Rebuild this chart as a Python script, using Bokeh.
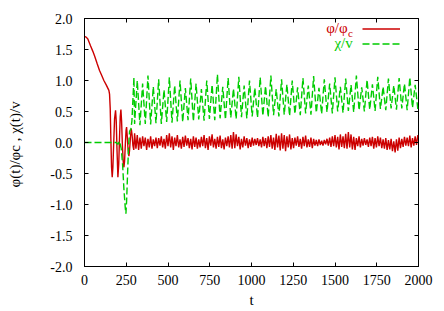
from bokeh.plotting import figure
from bokeh.models import (FixedTicker, NumeralTickFormatter, Range1d, LinearAxis,
                          Legend, LegendItem, Label, CustomJSTickFormatter, ColumnDataSource)
from bokeh.embed import file_html
from bokeh.resources import INLINE

# ---------------- data ----------------
x_ticks = [0, 250, 500, 750, 1000, 1250, 1500, 1750, 2000]
y_ticks = [-2.0, -1.5, -1.0, -0.5, 0.0, 0.5, 1.0, 1.5, 2.0]

phi_t_early = [0, 10, 20, 36, 50, 60, 76, 90, 100, 116,
               130, 146, 150, 154, 158, 162, 166, 170, 175, 180,
               186, 190, 195, 200, 205, 210, 214, 218, 222, 227,
               232, 236, 240, 245, 249, 252, 256, 261, 266, 270,
               275, 280, 285, 290, 295]
phi_early = [1.71, 1.70, 1.67, 1.56, 1.47, 1.40, 1.27, 1.16, 1.10, 1.00,
             0.93, 0.84, 0.78, 0.55, 0.05, -0.40, -0.56, -0.40, 0.00, 0.38,
             0.52, 0.35, -0.15, -0.56, -0.35, 0.10, 0.42, 0.53, 0.35, -0.05,
             -0.32, -0.40, -0.30, 0.00, 0.20, 0.25, 0.10, -0.12, -0.22, -0.12,
             0.08, 0.22, 0.12, -0.05, -0.12]

phi_t_late = list(range(300, 2000, 8))
phi_late = [
    0.15, -0.10, 0.12, -0.12, 0.08, -0.10, 0.10, -0.06, 0.08, -0.12,
    0.06, -0.08, 0.10, -0.10, 0.05, -0.06, 0.08, -0.09, 0.07, -0.05,
    0.10, -0.08, 0.06, -0.10, 0.12, -0.06, 0.15, -0.08, 0.10, -0.12,
    0.08, -0.06, 0.12, -0.08, 0.05, -0.10, 0.09, -0.07, 0.11, -0.05,
    0.07, -0.09, 0.06, -0.11, 0.10, -0.07, 0.08, -0.10, 0.05, -0.08,
    0.09, -0.06, 0.12, -0.09, 0.07, -0.12, 0.10, -0.05, 0.13, -0.08,
    0.06, -0.10, 0.09, -0.07, 0.11, -0.09, 0.05, -0.11, 0.08, -0.06,
    0.10, -0.08, 0.12, -0.10, 0.17, -0.09, 0.13, -0.06, 0.09, -0.11,
    0.06, -0.08, 0.10, -0.05, 0.07, -0.09, 0.05, -0.07, 0.08, -0.05,
    0.06, -0.04, 0.07, -0.06, 0.05, -0.08, 0.09, -0.06, 0.07, -0.09,
    0.10, -0.07, 0.12, -0.10, 0.08, -0.12, 0.14, -0.08, 0.11, -0.13,
    0.15, -0.10, 0.12, -0.14, 0.10, -0.08, 0.13, -0.11, 0.07, -0.09,
    0.08, -0.05, 0.10, -0.07, 0.06, -0.10, 0.09, -0.06, 0.11, -0.08,
    0.05, -0.07, 0.08, -0.09, 0.06, -0.05, 0.04, -0.06, 0.05, -0.04,
    0.03, -0.05, 0.04, -0.03, 0.06, -0.05, 0.08, -0.07, 0.10, -0.06,
    0.12, -0.08, 0.09, -0.11, 0.13, -0.07, 0.10, -0.09, 0.14, -0.10,
    0.17, -0.08, 0.13, -0.11, 0.09, -0.12, 0.07, -0.06, 0.10, -0.08,
    0.06, -0.05, 0.07, -0.04, 0.05, -0.07, 0.08, -0.06, 0.09, -0.10,
    0.07, -0.08, 0.10, -0.06, 0.08, -0.09, 0.05, -0.10, 0.07, -0.12,
    0.04, -0.11, 0.06, -0.14, 0.02, -0.16, 0.05, -0.13, 0.08, -0.09,
    0.06, -0.07, 0.09, -0.05, 0.08, -0.06, 0.11, -0.08, 0.07, -0.05,
    0.10, -0.04, 0.12]

chi_t_early = [0, 150, 190, 200, 210, 220, 228, 236, 244, 248,
               252, 258, 264, 270, 278, 284, 290, 296]
chi_early = [0.0, 0.0, 0.0, -0.03, 0.02, -0.10, -0.35, -0.75, -1.05, -1.15,
             -0.95, -0.50, -0.05, 0.18, 0.22, 0.35, 0.70, 1.05]

chi_t_late = list(range(300, 2000, 16))
chi_late = [
    0.30, 1.00, 0.28, 0.95, 0.30, 1.08, 0.29, 0.90, 0.31, 1.02,
    0.30, 0.85, 0.33, 1.05, 0.32, 0.92, 0.34, 1.00, 0.33, 0.88,
    0.36, 1.03, 0.34, 0.95, 0.37, 0.86, 0.35, 1.00, 0.38, 0.93,
    0.36, 1.10, 0.39, 0.90, 0.37, 1.04, 0.40, 0.87, 0.38, 1.06,
    0.41, 0.92, 0.39, 1.00, 0.42, 0.88, 0.40, 1.05, 0.43, 0.91,
    0.41, 1.08, 0.44, 0.86, 0.42, 1.02, 0.45, 0.94, 0.43, 1.00,
    0.46, 0.89, 0.44, 1.04, 0.47, 0.92, 0.45, 1.07, 0.48, 0.88,
    0.46, 1.02, 0.49, 0.95, 0.47, 1.05, 0.50, 0.90, 0.48, 1.03,
    0.51, 0.93, 0.49, 1.08, 0.52, 0.89, 0.50, 1.01, 0.53, 0.94,
    0.51, 1.06, 0.54, 0.90, 0.52, 1.03, 0.55, 0.92, 0.53, 1.04,
    0.55, 0.95, 0.52, 1.05, 0.56, 0.93, 0.54]

assert len(phi_t_early) == len(phi_early)
assert len(phi_t_late) == len(phi_late)
assert len(chi_t_early) == len(chi_early)
assert len(chi_t_late) == len(chi_late)

phi_src = ColumnDataSource(dict(t=phi_t_early + phi_t_late, v=phi_early + phi_late))
chi_src = ColumnDataSource(dict(t=chi_t_early + chi_t_late, v=chi_early + chi_late))

# ---------------- figure ----------------
FONT = "'Liberation Serif', serif"
RED = "#cc0000"
GREEN = "#00cc00"

p = figure(width=444, height=311, output_backend="svg", toolbar_location=None,
           x_range=Range1d(0, 2000), y_range=Range1d(-2, 2),
           min_border_left=84, min_border_right=26, min_border_top=18,
           min_border_bottom=45)
p.xgrid.visible = False
p.ygrid.visible = False
p.outline_line_color = "black"
p.outline_line_width = 1
p.background_fill_color = "white"

r_phi = p.line("t", "v", source=phi_src, line_color=RED, line_width=1.4)
r_chi = p.line("t", "v", source=chi_src, line_color=GREEN, line_width=1.4,
               line_dash="7 3")

for ax in (p.xaxis[0], p.yaxis[0]):
    ax.major_tick_in = 4
    ax.major_tick_out = 0
    ax.minor_tick_in = 0
    ax.minor_tick_out = 0
    ax.axis_line_color = "black"
    ax.major_tick_line_color = "black"
    ax.major_label_text_font = FONT
    ax.major_label_text_font_size = "14px"
    ax.major_label_text_color = "black"
    ax.axis_label_text_font = FONT
    ax.axis_label_text_font_size = "15px"
    ax.axis_label_text_font_style = "normal"
    ax.axis_label_text_color = "black"

p.xaxis.ticker = FixedTicker(ticks=x_ticks, minor_ticks=[])
p.yaxis.ticker = FixedTicker(ticks=y_ticks, minor_ticks=[])
p.yaxis.formatter = NumeralTickFormatter(format="0.0")
p.xaxis.major_label_standoff = 8
p.yaxis.major_label_standoff = 12

p.xaxis.axis_label = "t"
p.xaxis.axis_label_standoff = 4
p.yaxis.axis_label = "φ(t)/φc ,  χ(t)/v"
p.yaxis.axis_label_standoff = 24

blank = CustomJSTickFormatter(code="return ''")
top = LinearAxis(ticker=FixedTicker(ticks=x_ticks, minor_ticks=[]), formatter=blank,
                 major_tick_in=4, major_tick_out=0, minor_tick_in=0, minor_tick_out=0,
                 axis_line_color=None, major_label_standoff=0)
right = LinearAxis(ticker=FixedTicker(ticks=y_ticks, minor_ticks=[]), formatter=blank,
                   major_tick_in=4, major_tick_out=0, minor_tick_in=0, minor_tick_out=0,
                   axis_line_color=None, major_label_standoff=0)
p.add_layout(top, "above")
p.add_layout(right, "right")

# legend: coloured text on the left, line sample on the right
p.add_layout(Label(x=1576, y=1.84, text="φ/φ", text_font=FONT, text_font_size="15px",
                   text_color=RED, text_align="right", text_baseline="middle"))
p.add_layout(Label(x=1578, y=1.76, text="c", text_font=FONT, text_font_size="11px",
                   text_color=RED, text_align="left", text_baseline="middle"))
p.add_layout(Label(x=1606, y=1.60, text="χ/v", text_font=FONT, text_font_size="15px",
                   text_color=GREEN, text_align="right", text_baseline="middle"))

legend = Legend(items=[LegendItem(label=" ", renderers=[r_phi]),
                       LegendItem(label=" ", renderers=[r_chi])],
                location=(278, 215), glyph_width=38, glyph_height=15,
                label_height=15, label_width=0, label_standoff=0,
                padding=0, spacing=0, margin=0, border_line_color=None,
                background_fill_alpha=0, label_text_font_size="1px")
p.add_layout(legend)

open("out.html", "w").write(file_html(p, INLINE))
